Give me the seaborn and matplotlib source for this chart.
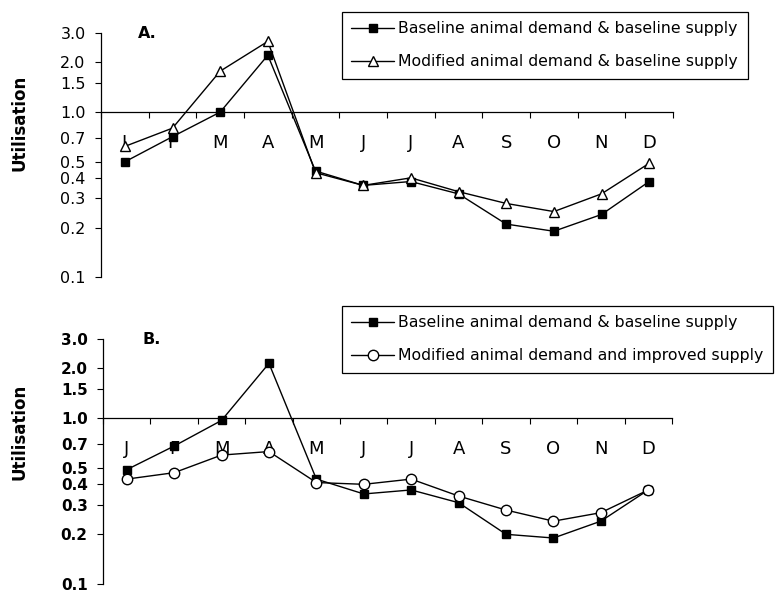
import numpy as np
import pandas as pd
import matplotlib
matplotlib.use("Agg")
import matplotlib.pyplot as plt
from matplotlib.ticker import NullLocator, NullFormatter
import seaborn as sns

# Month initials along the horizontal axis
months = ["J", "F", "M", "A", "M", "J", "J", "A", "S", "O", "N", "D"]

# Panel A: utilisation ratios
a_baseline = [0.50, 0.71, 1.00, 2.21, 0.44, 0.36, 0.38, 0.32, 0.21, 0.19, 0.24, 0.38]
a_modified = [0.62, 0.80, 1.77, 2.68, 0.43, 0.36, 0.40, 0.33, 0.28, 0.25, 0.32, 0.49]

# Panel B: utilisation ratios
b_baseline = [0.49, 0.68, 0.97, 2.14, 0.43, 0.35, 0.37, 0.31, 0.20, 0.19, 0.24, 0.37]
b_improved = [0.43, 0.47, 0.60, 0.63, 0.41, 0.40, 0.43, 0.34, 0.28, 0.24, 0.27, 0.37]

ytick_vals = [0.1, 0.2, 0.3, 0.4, 0.5, 0.7, 1.0, 1.5, 2.0, 3.0]
ytick_labels = ["0.1", "0.2", "0.3", "0.4", "0.5", "0.7", "1.0", "1.5", "2.0", "3.0"]

lab_a1 = "Baseline animal demand & baseline supply"
lab_a2 = "Modified animal demand & baseline supply"
lab_b1 = "Baseline animal demand & baseline supply"
lab_b2 = "Modified animal demand and improved supply"

sns.set_style("ticks")
plt.rcParams["font.family"] = ["DejaVu Sans"]
plt.rcParams["text.color"] = "black"
plt.rcParams["axes.labelcolor"] = "black"
plt.rcParams["xtick.color"] = "black"
plt.rcParams["ytick.color"] = "black"

W, H = 776, 592
fig = plt.figure(figsize=(W / 100, H / 100), dpi=100)


def px_axes(left, right, top, bottom):
    return fig.add_axes([left / W, 1 - bottom / H, (right - left) / W, (bottom - top) / H])


ax_a = px_axes(101, 673, 33.3, 277.3)
ax_b = px_axes(103, 672, 339, 584.3)


def frame(values, name):
    return pd.DataFrame({"month": np.arange(len(months)), "value": values, "series": name})


def draw_series(ax, values, name, marker, face, size):
    sns.lineplot(data=frame(values, name), x="month", y="value", ax=ax, color="black",
                 marker=marker, markersize=size, markerfacecolor=face,
                 markeredgecolor="black", markeredgewidth=1.0, linewidth=1.0,
                 label=name, sort=False)


def style_axis(ax, bold_ticks):
    ax.set_yscale("log")
    ax.set_ylim(0.1, 3.0)
    ax.set_xlim(-0.5, 11.5)
    ax.set_yticks(ytick_vals, ytick_labels)
    ax.yaxis.set_minor_locator(NullLocator())
    ax.set_xticks(np.arange(-0.5, 12, 1))
    ax.xaxis.set_major_formatter(NullFormatter())
    ax.set_xticks(np.arange(12), months, minor=True)
    ax.tick_params(axis="x", which="major", direction="out", length=4.5, width=0.8,
                   color="black")
    ax.tick_params(axis="x", which="minor", length=0, pad=15.5, labelsize=13,
                   labelcolor="black")
    ax.tick_params(axis="y", which="major", direction="out", length=4.5, width=0.8,
                   color="black", labelcolor="black", pad=6.5,
                   labelsize=11.5 if not bold_ticks else 11)
    if bold_ticks:
        for t in ax.get_yticklabels():
            t.set_fontweight("bold")
    ax.spines["top"].set_visible(False)
    ax.spines["right"].set_visible(False)
    ax.spines["bottom"].set_position(("data", 1.0))
    for s in ("left", "bottom"):
        ax.spines[s].set_color("black")
        ax.spines[s].set_linewidth(0.9)
    ax.set_xlabel("")
    ax.set_ylabel("")
    ax.patch.set_alpha(0)


draw_series(ax_a, a_baseline, lab_a1, "s", "black", 6.0)
draw_series(ax_a, a_modified, lab_a2, "^", "white", 7.0)
draw_series(ax_b, b_baseline, lab_b1, "s", "black", 6.0)
draw_series(ax_b, b_improved, lab_b2, "o", "white", 7.5)

style_axis(ax_a, bold_ticks=False)
style_axis(ax_b, bold_ticks=True)


def place_legend(ax, top_px):
    leg = ax.legend(loc="upper left", bbox_to_anchor=(342 / W, 1 - top_px / H),
                    bbox_transform=fig.transFigure, borderaxespad=0, frameon=True,
                    fancybox=False, framealpha=1, edgecolor="black", fontsize=11.3,
                    handlelength=2.7, handletextpad=0.3, labelspacing=1.15,
                    borderpad=0.6)
    leg.get_frame().set_linewidth(0.9)
    for t in leg.get_texts():
        t.set_color("black")
    return leg


place_legend(ax_a, 12)
place_legend(ax_b, 306)

fig.text(138 / W, 1 - 33 / H, "A.", fontweight="bold", fontsize=11.5, va="center", ha="left")
fig.text(142 / W, 1 - 340 / H, "B.", fontweight="bold", fontsize=11.5, va="center", ha="left")
fig.text(20 / W, 1 - 122.5 / H, "Utilisation", fontweight="bold", fontsize=12,
         rotation=90, va="center", ha="center")
fig.text(20 / W, 1 - 432 / H, "Utilisation", fontweight="bold", fontsize=12,
         rotation=90, va="center", ha="center")

fig.savefig("out.png", dpi=100, facecolor="white")
